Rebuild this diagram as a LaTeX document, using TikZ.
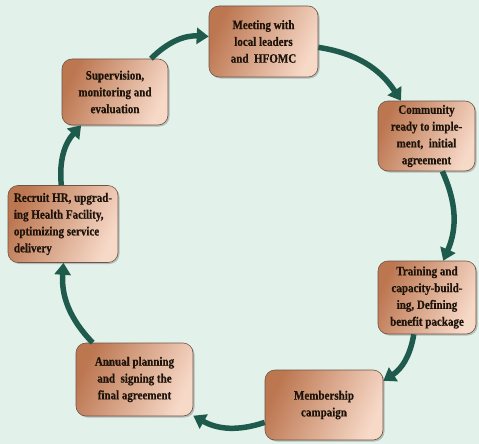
\documentclass[tikz,border=0pt]{standalone}
\usepackage{fontspec}
\newfontfamily\boxfont{Liberation Serif}[FakeStretch=0.86, BoldFeatures={FakeBold=0.6}]
\usetikzlibrary{arrows.meta,shadows}

\definecolor{bgmint}{HTML}{E2F1EA}
\definecolor{copperdark}{HTML}{BC7650}
\definecolor{coppermid}{HTML}{F1C7B0}
\definecolor{copperlight}{HTML}{F7D9C8}
\definecolor{copperedge}{HTML}{6E5446}
\definecolor{cycleteal}{HTML}{1F5B4D}

\tikzset{
  stage/.style={draw=copperedge, line width=0.6pt, rounded corners=10pt,
    left color=copperdark, middle color=coppermid, right color=copperlight, shading angle=65,
    drop shadow={shadow xshift=1.5pt, shadow yshift=-1.5pt, opacity=0.45},
    align=center, inner sep=2pt, text=black!85!brown,
    font=\boxfont\bfseries\fontsize{12.8}{16.8}\selectfont},
  cycle/.style={draw=cycleteal, line width=5.5pt,
    -{Triangle[width=16pt,length=12pt]}, bend left=24}
}

\begin{document}
\begin{tikzpicture}[x=1pt,y=-1pt]

    \fill[bgmint] (0,0) rectangle (479,444);
    \useasboundingbox (0,0) rectangle (479,444);

    \node[stage, minimum width=109pt, minimum height=71pt] (meet) at (263.5,41.5) {Meeting with\\local leaders\\and~ HFOMC};
    \node[stage, minimum width=97pt, minimum height=70pt] (ready) at (426.5,136) {Community\\ready to imple-\\ment,~ initial\\agreement};
    \node[stage, minimum width=98pt, minimum height=73pt] (train) at (427,297.5) {Training and\\capacity-build-\\ing, Defining\\benefit package};
    \node[stage, minimum width=118pt, minimum height=70pt] (member) at (324,405) {Membership\\campaign};
    \node[stage, minimum width=117pt, minimum height=73pt] (annual) at (134.5,379.5) {Annual planning\\and~ signing the\\final agreement};
    \node[stage, minimum width=110pt, minimum height=77pt, align=left] (recruit) at (63,224) {Recruit HR, upgrad-\\ing Health Facility,\\optimizing service\\delivery};
    \node[stage, minimum width=106pt, minimum height=66pt] (superv) at (115,92) {Supervision,\\monitoring and\\evaluation};

    \draw[cycle] (superv) to (meet);
    \draw[cycle] (meet) to (ready);
    \draw[cycle] (ready) to (train);
    \draw[cycle] (train) to (member);
    \draw[cycle] (member) to (annual);
    \draw[cycle] (annual) to (recruit);
    \draw[cycle] (recruit) to (superv);

\end{tikzpicture}
\end{document}
